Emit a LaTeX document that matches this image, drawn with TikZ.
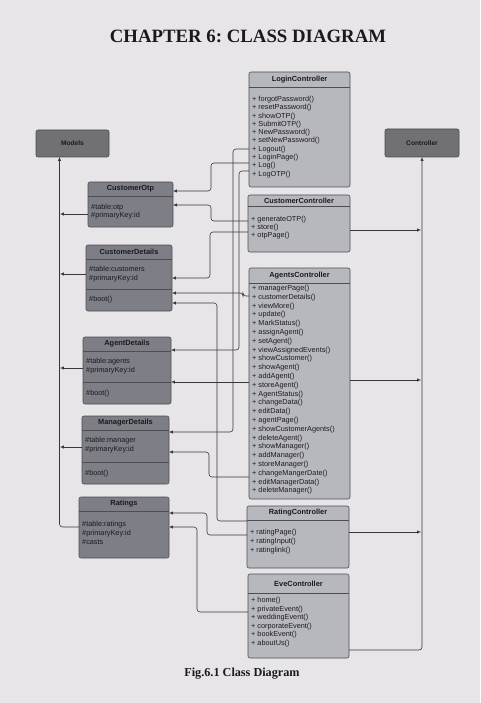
\documentclass[tikz,border=0pt]{standalone}
\usepackage{fontspec}
\setmainfont{Liberation Serif}
\newfontfamily\sansf{Liberation Sans}
\usetikzlibrary{arrows.meta,calc}
\frenchspacing
\definecolor{paper}{HTML}{E8E5E8}
\definecolor{ctrlfill}{HTML}{B7B7BE}
\definecolor{modfill}{HTML}{7D7E86}
\definecolor{pkgfill}{HTML}{717174}
\definecolor{pkgedge}{HTML}{4A4A4C}
\definecolor{edge}{HTML}{4E4E52}
\definecolor{ink}{HTML}{1A1A1E}
\definecolor{wire}{HTML}{38383C}
\definecolor{titleink}{HTML}{1A1A1A}
\newcommand\clsbox[8]{%
  \node[#7, minimum width={(#4-#2)*1pt}, minimum height={(#5-#3)*1pt}, anchor=north west] (#1) at (#2,#3) {};
  \draw[divline] (#1.west |- 0,#6) -- (#1.east |- 0,#6);
  \node[hd] (#1-t) at ({(#2+#4)/2},{(#3+#6)/2}) {#8};
}
\begin{document}
\begin{tikzpicture}[x=1pt,y=-1pt,
  box/.style={draw=edge, line width=0.6pt, rounded corners=2pt, outer sep=0pt, inner sep=0pt},
  ctrlbox/.style={box, fill=ctrlfill},
  modbox/.style={box, fill=modfill},
  pkgbox/.style={box, fill=pkgfill, draw=pkgedge, font=\sansf\bfseries\fontsize{6.6}{8}\selectfont, text=ink},
  divline/.style={draw=edge, line width=0.6pt},
  hd/.style={font=\sansf\bfseries\fontsize{7.4}{8}\selectfont, text=ink, inner sep=0pt},
  items/.style={font=\sansf\fontsize{7.3}{#1}\selectfont, align=left, anchor=north west, inner sep=0pt, text=ink},
  conn/.style={draw=wire, line width=0.6pt, rounded corners=3pt, -{Latex[length=3.8pt,width=3.2pt]}},
]
\fill[paper] (0,0) rectangle (480,703);
\useasboundingbox (0,0) rectangle (480,703);

\node[font=\bfseries\fontsize{18.8}{20}\selectfont, text=titleink] (title) at (248,36) {CHAPTER 6: CLASS DIAGRAM};
\node[font=\bfseries\fontsize{12.2}{14}\selectfont, text=titleink] (caption) at (242,674) {Fig.6.1 Class Diagram};

% packages
\node[pkgbox, minimum width=73pt, minimum height=27pt] (models) at (72.5,143.5) {Models};
\node[pkgbox, minimum width=74pt, minimum height=28pt] (ctrl) at (422,143) {Controller};

% controllers
\clsbox{login}{249}{72}{350}{187}{87}{ctrlbox}{LoginController}
\node[items=8.3] (login-i) at (252,96) {+ forgotPassword()\\+ resetPassword()\\+ showOTP()\\+ SubmitOTP()\\+ NewPassword()\\+ setNewPassword()\\+ Logout()\\+ LoginPage()\\+ Log()\\+ LogOTP()};

\clsbox{cc}{248}{195}{350}{252}{206}{ctrlbox}{CustomerController}
\node[items=7.8] (cc-i) at (251,216) {+ generateOTP()\\+ store()\\+ otpPage()};

\clsbox{ac}{249}{268}{350}{499}{283}{ctrlbox}{AgentsController}
\node[items=8.8] (ac-i) at (252,285) {+ managerPage()\\+ customerDetails()\\+ viewMore()\\+ update()\\+ MarkStatus()\\+ assignAgent()\\+ setAgent()\\+ viewAssignedEvents()\\+ showCustomer()\\+ showAgent()\\+ addAgent()\\+ storeAgent()\\+ AgentStatus()\\+ changeData()\\+ editData()\\+ agentPage()\\+ showCustomerAgents()\\+ deleteAgent()\\+ showManager()\\+ addManager()\\+ storeManager()\\+ changeMangerDate()\\+ editManagerData()\\+ deleteManager()};

\clsbox{rc}{247}{506}{349}{568}{520}{ctrlbox}{RatingController}
\node[items=8.8] (rc-i) at (250,529) {+ ratingPage()\\+ ratingInput()\\+ ratinglink()};

\clsbox{eve}{248}{574}{349}{658}{593}{ctrlbox}{EveController}
\node[items=8.6] (eve-i) at (251,597) {+ home()\\+ privateEvent()\\+ weddingEvent()\\+ corporateEvent()\\+ bookEvent()\\+ aboutUs()};

% models
\clsbox{otp}{88}{182}{173}{227}{196}{modbox}{CustomerOtp}
\node[items=8.5] (otp-i) at (91,204) {\#table:otp\\\#primaryKey:id};

\clsbox{cd}{86}{245}{172}{311}{259}{modbox}{CustomerDetails}
\draw[divline] (cd.west |- 0,289) -- (cd.east |- 0,289);
\node[items=9] (cd-i) at (89,266) {\#table:customers\\\#primaryKey:id};
\node[items=9] (cd-b) at (89,296) {\#boot()};

\clsbox{ad}{83}{337}{171}{404}{351}{modbox}{AgentDetails}
\draw[divline] (ad.west |- 0,382) -- (ad.east |- 0,382);
\node[items=9] (ad-i) at (86,358) {\#table:agents\\\#primaryKey:id};
\node[items=9] (ad-b) at (86,390) {\#boot()};

\clsbox{mgr}{82}{416}{169}{484}{430}{modbox}{ManagerDetails}
\draw[divline] (mgr.west |- 0,462) -- (mgr.east |- 0,462);
\node[items=9] (mgr-i) at (85,437) {\#table:manager\\\#primaryKey:id};
\node[items=9] (mgr-b) at (85,470) {\#boot()};

\clsbox{rat}{79}{497}{169}{558}{511}{modbox}{Ratings}
\node[items=9.2] (rat-i) at (82,521) {\#table:ratings\\\#primaryKey:id\\\#casts};

% guide coordinates
\coordinate (mline) at (60,0);
\coordinate (cline) at (421,0);

% inheritance to Models
\draw[conn] (rat.west |- 0,527) -| ($(models.south west)+(23.5,0)$);
\draw[conn] (otp.west |- 0,214) -- (mline |- 0,214);
\draw[conn] (cd.west |- 0,274) -- (mline |- 0,274);
\draw[conn] (ad.west |- 0,368) -- (mline |- 0,368);
\draw[conn] (mgr.west |- 0,447) -- (mline |- 0,447);

% inheritance to Controller
\draw[conn] (eve.east |- 0,650) -| (ctrl.south);
\draw[conn] (cc.east |- 0,230) -- (cline |- 0,230);
\draw[conn] (ac.east |- 0,380) -- (cline |- 0,380);
\draw[conn] (rc.east |- 0,532) -- (cline |- 0,532);

% associations
\draw[conn] (login.west |- 0,149) -| (233,432) -- (mgr.east |- 0,432);
\draw[conn] (login.west |- 0,163) -| (211,191) -- (otp.east |- 0,191);
\draw[conn] (login.west |- 0,171) -| (239,350) -- (ad.east |- 0,350);
\draw[conn] (cc.west |- 0,221) -| (211,205) -- (otp.east |- 0,205);
\draw[conn] (cc.west |- 0,232) -| (210,278) -- (cd.east |- 0,278);
\draw[conn] (ac.west |- 0,296) -| (243,293) -- (cd.east |- 0,293);
\draw[conn] (rc.west |- 0,521) -| (217,303) -- (cd.east |- 0,303);
\draw[conn] (ac.west |- 0,382) -- (ad.east |- 0,382);
\draw[conn] (ac.west |- 0,477) -| (209,452) -- (mgr.east |- 0,452);
\draw[conn] (rc.west |- 0,535) -| (207,513) -- (rat.east |- 0,513);
\draw[conn] (eve.west |- 0,612) -| (197,527) -- (rat.east |- 0,527);
\end{tikzpicture}
\end{document}
